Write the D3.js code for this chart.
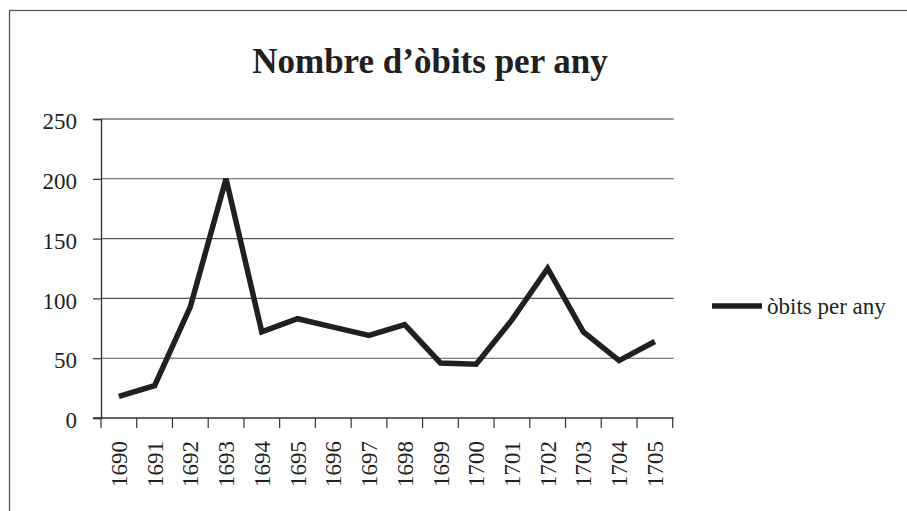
<!DOCTYPE html>
<html>
<head>
<meta charset="utf-8">
<script src="https://cdn.jsdelivr.net/npm/d3@7"></script>
<style>
  html, body { margin: 0; padding: 0; background: #fff; }
  svg { display: block; }
</style>
</head>
<body>
<svg id="chart" width="907" height="511"></svg>
<script>
const years = ["1690","1691","1692","1693","1694","1695","1696","1697","1698","1699","1700","1701","1702","1703","1704","1705"];
const deaths = [18, 27, 93, 200, 72, 83, 76, 69, 78, 46, 45, 82, 125, 72, 48, 64];
const yTicks = [0, 50, 100, 150, 200, 250];
const title = "Nombre d\u2019òbits per any";
const seriesName = "òbits per any";

(function () {
const FONT = '"Liberation Serif"';
const INK = "#231f20";
const svg = d3.select("#chart");
const pLeft = 101, pRight = 672.7, pTop = 119, pBottom = 418;

// outer frame (extends beyond the viewport at right and bottom)
svg.append("rect")
  .attr("x", 9.5).attr("y", 10.5)
  .attr("width", 1000).attr("height", 1000)
  .attr("fill", "none").attr("stroke", "#555").attr("stroke-width", 1.3);

const x = d3.scaleBand().domain(years).range([pLeft, pRight]).padding(0);
const y = d3.scaleLinear().domain([0, 250]).range([pBottom, pTop]);

// gridlines
svg.append("g").selectAll("line").data(yTicks.filter(d => d > 0)).join("line")
  .attr("x1", pLeft).attr("x2", pRight + 1)
  .attr("y1", d => y(d)).attr("y2", d => y(d))
  .attr("stroke", d => d === 250 ? "#333" : "#555").attr("stroke-width", 1.1);

// y axis
const yAxis = svg.append("g").attr("transform", `translate(${pLeft},0)`)
  .call(d3.axisLeft(y).tickValues(yTicks).tickSize(8).tickPadding(16));
yAxis.attr("font-family", null).attr("font-size", null);
yAxis.select(".domain").attr("stroke", "#333").attr("stroke-width", 1.3);
yAxis.selectAll(".tick line").attr("stroke", "#333").attr("stroke-width", 1.2);
yAxis.selectAll(".tick text")
  .style("font-family", FONT)
  .style("font-size", "23px").attr("fill", INK).attr("dy", "0.42em");

// x axis baseline
svg.append("line").attr("x1", pLeft - 8).attr("x2", pRight + 1)
  .attr("y1", pBottom).attr("y2", pBottom)
  .attr("stroke", "#333").attr("stroke-width", 1.3);

// x ticks at band boundaries
const bounds = years.map(d => x(d)).concat([x(years[years.length - 1]) + x.bandwidth()]);
svg.append("g").selectAll("line").data(bounds).join("line")
  .attr("x1", d => d).attr("x2", d => d)
  .attr("y1", pBottom).attr("y2", pBottom + 10)
  .attr("stroke", "#333").attr("stroke-width", 1.2);

// x labels rotated
svg.append("g").selectAll("text").data(years).join("text")
  .attr("transform", d => `translate(${x(d) + x.bandwidth() / 2},441) rotate(-90)`)
  .attr("text-anchor", "end").attr("dy", "0.35em")
  .style("font-family", FONT).style("font-size", "23px").attr("fill", INK)
  .text(d => d);

// data line
const line = d3.line()
  .x((d, i) => x(years[i]) + x.bandwidth() / 2)
  .y(d => y(d));
svg.append("path").datum(deaths)
  .attr("d", line)
  .attr("fill", "none").attr("stroke", INK)
  .attr("stroke-width", 5.5).attr("stroke-linejoin", "miter");

// title
svg.append("text").attr("x", 430).attr("y", 73)
  .attr("text-anchor", "middle")
  .style("font-family", FONT).style("font-size", "35px").style("font-weight", "bold")
  .attr("fill", INK)
  .text(title);

// legend
svg.append("line").attr("x1", 712).attr("x2", 762)
  .attr("y1", 306).attr("y2", 306)
  .attr("stroke", INK).attr("stroke-width", 5.5);
svg.append("text").attr("x", 767).attr("y", 314)
  .style("font-family", FONT).style("font-size", "23px").attr("fill", INK)
  .text(seriesName);
})();
</script>
</body>
</html>
